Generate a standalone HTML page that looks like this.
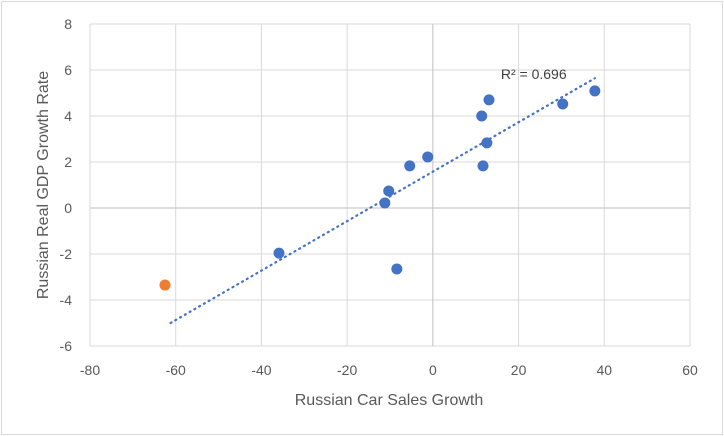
<!DOCTYPE html>
<html><head><meta charset="utf-8"><style>
body{margin:0;background:#fff;}
svg{display:block;font-family:"Liberation Sans",Arial,sans-serif;}
</style></head><body>
<svg id="chart" width="724" height="436">
<rect x="1.5" y="1.5" width="721" height="433" fill="#fff" stroke="#d9d9d9"/>
<g id="grid"></g>
<g id="axes"></g>
<g id="trend"></g>
<g id="pts"></g>
<text x="389" y="405" text-anchor="middle" font-size="16" fill="#595959">Russian Car Sales Growth</text>
<text transform="translate(48,185) rotate(-90)" text-anchor="middle" font-size="16" fill="#595959">Russian Real GDP Growth Rate</text>
</svg>
<script>
const xTicks=[-80,-60,-40,-20,0,20,40,60];
const yTicks=[-6,-4,-2,0,2,4,6,8];
const carGrowth=[13.1,11.4,12.6,11.7,30.3,37.8,-1.2,-5.4,-10.3,-11.2,-8.4,-35.9];
const gdpGrowth=[4.7,4.0,2.83,1.83,4.52,5.09,2.22,1.83,0.74,0.22,-2.65,-1.96];
const outlierX=[-62.5];
const outlierY=[-3.35];
const r2Label=["R² = 0.696"];
const NS="http://www.w3.org/2000/svg";
const X0=90,X1=690,Y0=346,Y1=24;
const sx=v=>X0+(v+80)/140*(X1-X0);
const sy=v=>Y0-(v+6)/14*(Y0-Y1);
function mk(tag,attrs,parent){const e=document.createElementNS(NS,tag);for(const k in attrs)e.setAttribute(k,attrs[k]);parent.appendChild(e);return e;}
const grid=document.getElementById('grid'),axes=document.getElementById('axes');
xTicks.forEach(t=>{
  if(t!==0){const l=mk('line',{x1:sx(t),x2:sx(t),y1:Y1,y2:Y0,stroke:'#d9d9d9'},grid);
  
  }
  const tx=mk('text',{x:sx(t),y:Y0+29,'text-anchor':'middle','font-size':'14',fill:'#595959'},axes);
  tx.textContent=t;
  
  
});
yTicks.forEach(t=>{
  if(t!==0){const l=mk('line',{x1:X0,x2:X1,y1:sy(t),y2:sy(t),stroke:'#d9d9d9'},grid);
  
  }
  const tx=mk('text',{x:X0-18,y:sy(t)+5,'text-anchor':'end','font-size':'14',fill:'#595959'},axes);
  tx.textContent=t;
  
  
});
const ya=mk('line',{x1:sx(0),x2:sx(0),y1:Y1,y2:Y0,stroke:'#bfbfbf'},axes);


const xa=mk('line',{x1:X0,x2:X1,y1:sy(0),y2:sy(0),stroke:'#bfbfbf'},axes);


const n=carGrowth.length;
const mx=carGrowth.reduce((a,b)=>a+b,0)/n,my=gdpGrowth.reduce((a,b)=>a+b,0)/n;
let sxy=0,sxx=0;for(let i=0;i<n;i++){sxy+=(carGrowth[i]-mx)*(gdpGrowth[i]-my);sxx+=(carGrowth[i]-mx)**2;}
const slope=sxy/sxx,icpt=my-slope*mx;
const xmin=Math.min(...carGrowth,...outlierX)+1.3,xmax=Math.max(...carGrowth);
const trend=document.getElementById('trend');
const tl=mk('line',{x1:sx(xmin),y1:sy(icpt+slope*xmin)-2,x2:sx(xmax),y2:sy(icpt+slope*xmax),stroke:'#4472c4','stroke-width':'2.2','stroke-dasharray':'1 4.5','stroke-linecap':'round'},trend);


const rl=mk('text',{x:sx(xmax)-94,y:sy(icpt+slope*xmax)+1,'font-size':'14',fill:'#404040'},trend);
rl.textContent=r2Label[0];


const pts=document.getElementById('pts');
for(let i=0;i<n;i++){
  const c=mk('circle',{cx:sx(carGrowth[i]),cy:sy(gdpGrowth[i]),r:5.5,fill:'#4472c4'},pts);
  
  
}
outlierX.forEach((v,i)=>{
  const c=mk('circle',{cx:sx(v),cy:sy(outlierY[i]),r:5.5,fill:'#ed7d31'},pts);
  
  
});
</script>
</body></html>
